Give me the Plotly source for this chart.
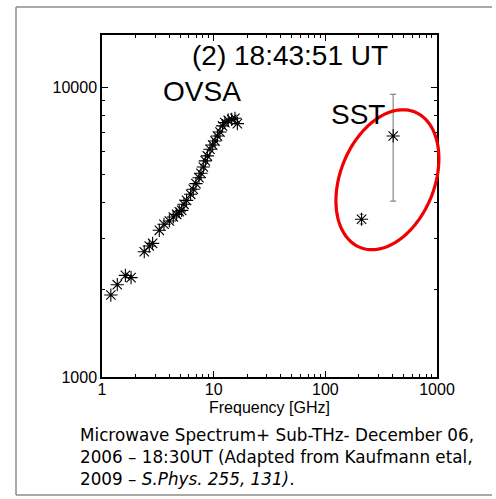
import numpy as np
import plotly.graph_objects as go

# ---------------- data ----------------
ovsa_freq = [1.20, 1.37, 1.62, 1.82, 2.39, 2.65, 2.84, 3.26, 3.59, 4.01, 4.35, 4.66,
             4.92, 5.17, 5.42, 5.72, 6.22, 6.57, 6.94, 7.39, 7.70, 8.08, 8.42, 8.78,
             9.27, 9.80, 10.3, 10.8, 11.4, 12.0, 12.6, 13.5, 14.5, 15.5, 16.3]
ovsa_flux = [1920, 2085, 2245, 2205, 2710, 2836, 2897, 3214, 3372, 3462, 3573, 3650,
             3727, 3767, 3953, 4080, 4280, 4455, 4660, 4886, 5060, 5320, 5585, 5810,
             6125, 6340, 6545, 6810, 7030, 7380, 7575, 7720, 7775, 7840, 7515]

sst1_freq = [211]
sst1_flux = [3510]
sst1_err_plus = [140]
sst1_err_minus = [130]

sst2_freq = [405]
sst2_flux = [6810]
sst2_err_plus = [2680]
sst2_err_minus = [2755]

x_tickvals = [1, 10, 100, 1000]
x_ticktext = ["1", "10", "100", "1000"]
y_tickvals = [1000, 10000]
y_ticktext = ["1000", "10000"]
x_minor = [m * d for d in (1, 10, 100) for m in range(2, 10)]
y_minor = [m * 1000 for m in range(2, 10)]

# ---------------- layout geometry ----------------
W, H = 496, 499
L, R, T, B = 102, 437, 35, 377
PW, PH = R - L, B - T
XR = [0, 3]
YR = [3, 3 + (B - T) / 289.3]

def px(x):
    return (x - L) / PW

def py(y):
    return (B - y) / PH

FONT = "Liberation Sans, Arial, sans-serif"

fig = go.Figure()

marker_style = dict(symbol="asterisk-open", size=11, color="black",
                    line=dict(color="black", width=1.1))

fig.add_trace(go.Scatter(x=ovsa_freq, y=ovsa_flux, mode="markers",
                         marker=marker_style, showlegend=False))

fig.add_trace(go.Scatter(
    x=sst1_freq, y=sst1_flux, mode="markers", marker=marker_style,
    error_y=dict(type="data", symmetric=False, array=sst1_err_plus,
                 arrayminus=sst1_err_minus, color="#555555", thickness=1, width=2),
    showlegend=False))

fig.add_trace(go.Scatter(
    x=sst2_freq, y=sst2_flux, mode="markers", marker=marker_style,
    error_y=dict(type="data", symmetric=False, array=sst2_err_plus,
                 arrayminus=sst2_err_minus, color="#888888", thickness=1.2, width=3),
    showlegend=False))

# ---------------- red ellipse (highlight) ----------------
ecx, ecy = (387.5 - L) / 111.7, 4 - (179 - 87) / 289.3   # centre in log units
t = np.linspace(0, 2 * np.pi, 121)
ex = ecx + 0.461 * np.cos(t)
ey = ecy + 0.0728 * np.cos(t) + 0.2307 * np.sin(t)
pxs = (ex - XR[0]) / (XR[1] - XR[0])
pys = (ey - YR[0]) / (YR[1] - YR[0])
path = "M " + " L ".join(f"{a:.4f},{b:.4f}" for a, b in zip(pxs, pys)) + " Z"
fig.add_shape(type="path", path=path, xref="paper", yref="paper",
              line=dict(color="#f00000", width=3.2), layer="above")

# outer grey frame (left, top and bottom sides; right side lies off the page)
for (xa, ya, xb, yb) in [(16, 7, 492, 7), (16, 7, 16, 495), (16, 495, 492, 495)]:
    fig.add_shape(type="line", xref="paper", yref="paper",
                  x0=px(xa), y0=py(ya), x1=px(xb), y1=py(yb),
                  line=dict(color="#8c8c8c", width=1.5), layer="below")

axis_common = dict(
    type="log", showgrid=False, zeroline=False,
    showline=True, linecolor="black", linewidth=1.5, mirror="allticks",
    ticks="inside", ticklen=6, tickwidth=1, tickcolor="black",
    tickfont=dict(family=FONT, size=16, color="black"),
)

fig.update_xaxes(**axis_common, range=XR, tickvals=x_tickvals, ticktext=x_ticktext,
                 ticklabelstandoff=-3,
                 minor=dict(tickvals=x_minor, ticks="inside", ticklen=3,
                            tickcolor="black", tickwidth=1))
fig.update_yaxes(**axis_common, range=YR, tickvals=y_tickvals, ticktext=y_ticktext,
                 ticklabelstandoff=0,
                 minor=dict(tickvals=y_minor, ticks="inside", ticklen=3,
                            tickcolor="black", tickwidth=1))

annotations = [
    dict(text="(2) 18:43:51 UT", x=px(290), y=py(55), size=28),
    dict(text="OVSA", x=px(202), y=py(91), size=28),
    dict(text="SST", x=px(358), y=py(114), size=28),
    dict(text="Frequency [GHz]", x=px(269), y=py(408), size=16),
]
for a in annotations:
    fig.add_annotation(xref="paper", yref="paper", showarrow=False,
                       xanchor="center", yanchor="middle",
                       text=a["text"], x=a["x"], y=a["y"],
                       font=dict(family=FONT, color="black", size=a["size"]))

caption = ["Microwave Spectrum+ Sub-THz- December 06,",
           "2006 – 18:30UT (Adapted from Kaufmann etal,",
           "2009 – <i>S.Phys. 255, 131)</i>."]
for i, line in enumerate(caption):
    fig.add_annotation(xref="paper", yref="paper", showarrow=False,
                       xanchor="left", yanchor="middle",
                       x=px(78), y=py(435 + 22 * i), text=line,
                       font=dict(family="DejaVu Sans, sans-serif", size=16.8, color="black"))

fig.update_layout(
    width=W, height=H,
    margin=dict(l=L, r=W - R, t=T, b=H - B),
    paper_bgcolor="white", plot_bgcolor="white",
    showlegend=False,
)

fig.write_html("out.html")
